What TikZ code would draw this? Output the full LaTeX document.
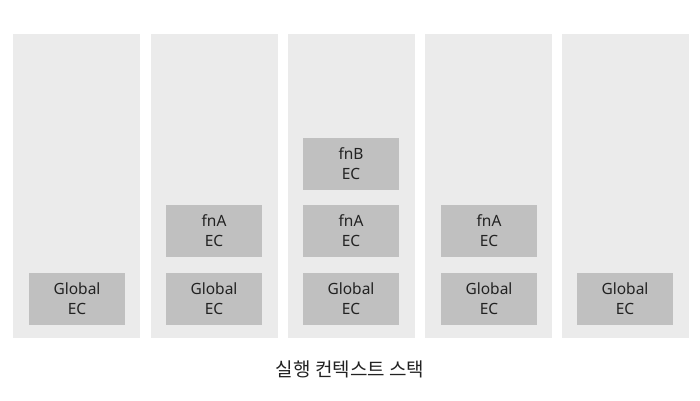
\documentclass[tikz,border=0pt]{standalone}
\usepackage{fontspec}
\setmainfont{Noto Sans}
\newfontfamily\kofont{Noto Sans CJK KR}
\usepackage{xcolor}
\usetikzlibrary{positioning}
\definecolor{colgray}{HTML}{EBEBEB}
\definecolor{ecgray}{HTML}{C0C0C0}
\definecolor{txtgray}{HTML}{222222}
\tikzstyle{stackcol}=[fill=colgray,draw=none,minimum width=127pt,minimum height=304pt,inner sep=0pt,anchor=north west]
\tikzstyle{ecbox}=[fill=ecgray,draw=none,minimum width=96pt,minimum height=52pt,inner sep=0pt,align=center,text=txtgray,font=\fontsize{15.5}{20}\selectfont]

\begin{document}
\begin{tikzpicture}[x=1pt,y=-1pt]
	\useasboundingbox (0,0) rectangle (700,400);
	\node[stackcol] (s1) at ( 13,34) {};
	\node[stackcol] (s2) at (151,34) {};
	\node[stackcol] (s3) at (288,34) {};
	\node[stackcol] (s4) at (425,34) {};
	\node[stackcol] (s5) at (562,34) {};
	%
	\node[ecbox] (g1) at ( 77,299) {Global\\EC};
	\node[ecbox] (g2) at (214,299) {Global\\EC};
	\node[ecbox] (g3) at (351,299) {Global\\EC};
	\node[ecbox] (g4) at (489,299) {Global\\EC};
	\node[ecbox] (g5) at (625,299) {Global\\EC};
	%
	\node[ecbox] (a2) at (214,231) {fnA\\EC};
	\node[ecbox] (a3) at (351,231) {fnA\\EC};
	\node[ecbox] (a4) at (489,231) {fnA\\EC};
	\node[ecbox] (b3) at (351,164) {fnB\\EC};
	%
	\node[text=txtgray,font=\kofont\fontsize{19}{23}\selectfont] (cap) at (350,369) {실행 컨텍스트 스택};
\end{tikzpicture}
\end{document}
